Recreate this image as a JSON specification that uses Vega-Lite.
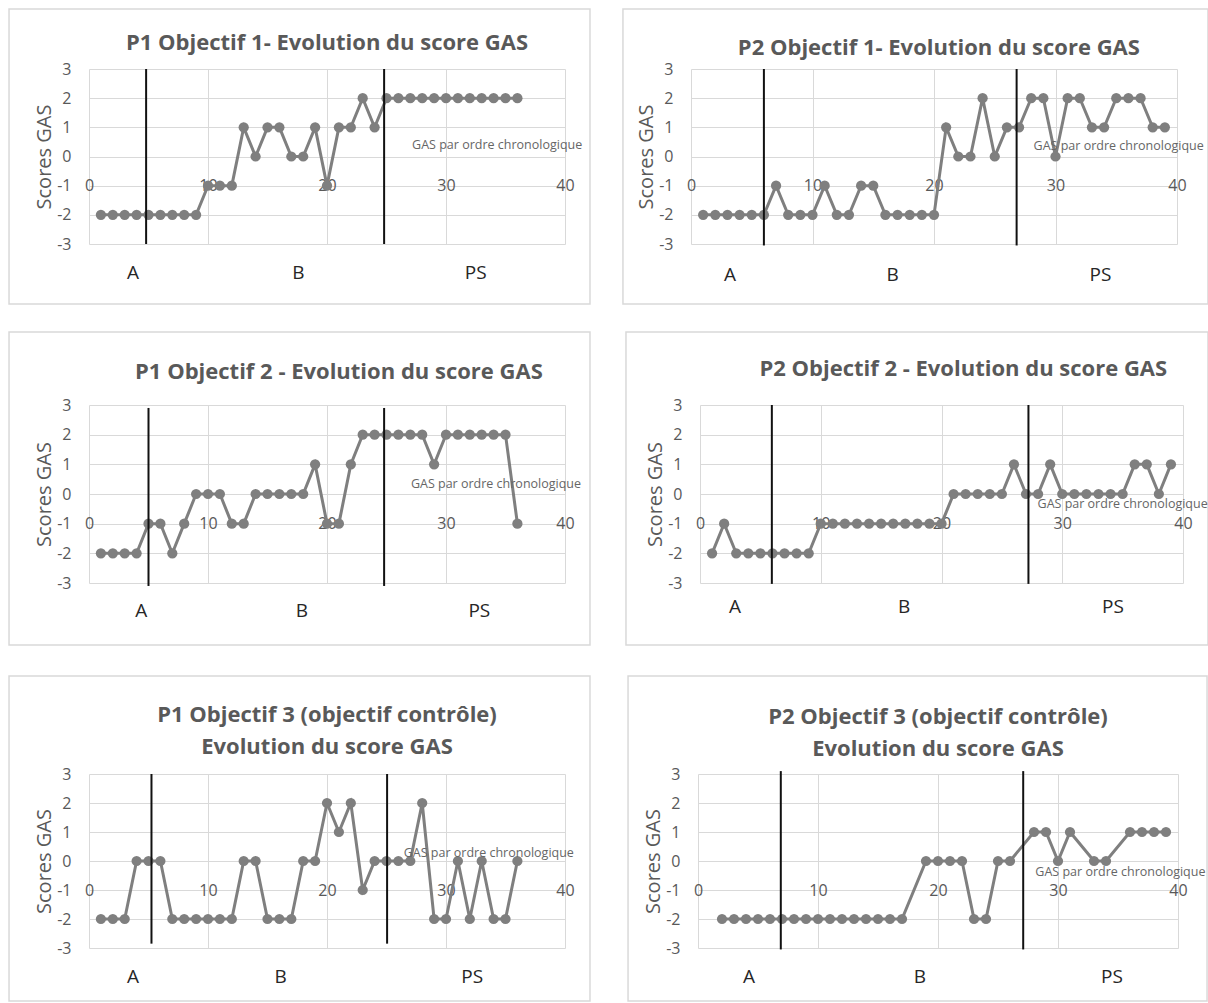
{
  "$schema": "https://vega.github.io/schema/vega-lite/v6.json",
  "padding": {"left": 8, "top": 8, "right": 0, "bottom": 0},
  "background": "white",
  "config": {
    "view": {"stroke": null},
    "font": "Open Sans",
    "axis": {"grid": true, "gridColor": "#d9d9d9", "gridWidth": 1, "domain": false, "ticks": false, "labelOverlap": false, "labelFont": "Open Sans", "labelFontSize": 16, "labelColor": "#595959", "labelFlush": false, "labelExpr": "'' + datum.value", "titleFont": "Open Sans", "titleFontSize": 20, "titleFontWeight": "normal", "titleColor": "#595959"},
    "axisX": {"labelPadding": 0, "labelBaseline": "middle", "tickCount": 10},
    "axisY": {"labelPadding": 18, "titlePadding": 2, "tickCount": 10}
  },
  "datasets": {
    "p1o1": [{"x":1,"score":-2},{"x":2,"score":-2},{"x":3,"score":-2},{"x":4,"score":-2},{"x":5,"score":-2},{"x":6,"score":-2},{"x":7,"score":-2},{"x":8,"score":-2},{"x":9,"score":-2},{"x":10,"score":-1},{"x":11,"score":-1},{"x":12,"score":-1},{"x":13,"score":1},{"x":14,"score":0},{"x":15,"score":1},{"x":16,"score":1},{"x":17,"score":0},{"x":18,"score":0},{"x":19,"score":1},{"x":20,"score":-1},{"x":21,"score":1},{"x":22,"score":1},{"x":23,"score":2},{"x":24,"score":1},{"x":25,"score":2},{"x":26,"score":2},{"x":27,"score":2},{"x":28,"score":2},{"x":29,"score":2},{"x":30,"score":2},{"x":31,"score":2},{"x":32,"score":2},{"x":33,"score":2},{"x":34,"score":2},{"x":35,"score":2},{"x":36,"score":2}],
    "p2o1": [{"x":1,"score":-2},{"x":2,"score":-2},{"x":3,"score":-2},{"x":4,"score":-2},{"x":5,"score":-2},{"x":6,"score":-2},{"x":7,"score":-1},{"x":8,"score":-2},{"x":9,"score":-2},{"x":10,"score":-2},{"x":11,"score":-1},{"x":12,"score":-2},{"x":13,"score":-2},{"x":14,"score":-1},{"x":15,"score":-1},{"x":16,"score":-2},{"x":17,"score":-2},{"x":18,"score":-2},{"x":19,"score":-2},{"x":20,"score":-2},{"x":21,"score":1},{"x":22,"score":0},{"x":23,"score":0},{"x":24,"score":2},{"x":25,"score":0},{"x":26,"score":1},{"x":27,"score":1},{"x":28,"score":2},{"x":29,"score":2},{"x":30,"score":0},{"x":31,"score":2},{"x":32,"score":2},{"x":33,"score":1},{"x":34,"score":1},{"x":35,"score":2},{"x":36,"score":2},{"x":37,"score":2},{"x":38,"score":1},{"x":39,"score":1}],
    "p1o2": [{"x":1,"score":-2},{"x":2,"score":-2},{"x":3,"score":-2},{"x":4,"score":-2},{"x":5,"score":-1},{"x":6,"score":-1},{"x":7,"score":-2},{"x":8,"score":-1},{"x":9,"score":0},{"x":10,"score":0},{"x":11,"score":0},{"x":12,"score":-1},{"x":13,"score":-1},{"x":14,"score":0},{"x":15,"score":0},{"x":16,"score":0},{"x":17,"score":0},{"x":18,"score":0},{"x":19,"score":1},{"x":20,"score":-1},{"x":21,"score":-1},{"x":22,"score":1},{"x":23,"score":2},{"x":24,"score":2},{"x":25,"score":2},{"x":26,"score":2},{"x":27,"score":2},{"x":28,"score":2},{"x":29,"score":1},{"x":30,"score":2},{"x":31,"score":2},{"x":32,"score":2},{"x":33,"score":2},{"x":34,"score":2},{"x":35,"score":2},{"x":36,"score":-1}],
    "p2o2": [{"x":1,"score":-2},{"x":2,"score":-1},{"x":3,"score":-2},{"x":4,"score":-2},{"x":5,"score":-2},{"x":6,"score":-2},{"x":7,"score":-2},{"x":8,"score":-2},{"x":9,"score":-2},{"x":10,"score":-1},{"x":11,"score":-1},{"x":12,"score":-1},{"x":13,"score":-1},{"x":14,"score":-1},{"x":15,"score":-1},{"x":16,"score":-1},{"x":17,"score":-1},{"x":18,"score":-1},{"x":19,"score":-1},{"x":20,"score":-1},{"x":21,"score":0},{"x":22,"score":0},{"x":23,"score":0},{"x":24,"score":0},{"x":25,"score":0},{"x":26,"score":1},{"x":27,"score":0},{"x":28,"score":0},{"x":29,"score":1},{"x":30,"score":0},{"x":31,"score":0},{"x":32,"score":0},{"x":33,"score":0},{"x":34,"score":0},{"x":35,"score":0},{"x":36,"score":1},{"x":37,"score":1},{"x":38,"score":0},{"x":39,"score":1}],
    "p1o3": [{"x":1,"score":-2},{"x":2,"score":-2},{"x":3,"score":-2},{"x":4,"score":0},{"x":5,"score":0},{"x":6,"score":0},{"x":7,"score":-2},{"x":8,"score":-2},{"x":9,"score":-2},{"x":10,"score":-2},{"x":11,"score":-2},{"x":12,"score":-2},{"x":13,"score":0},{"x":14,"score":0},{"x":15,"score":-2},{"x":16,"score":-2},{"x":17,"score":-2},{"x":18,"score":0},{"x":19,"score":0},{"x":20,"score":2},{"x":21,"score":1},{"x":22,"score":2},{"x":23,"score":-1},{"x":24,"score":0},{"x":25,"score":0},{"x":26,"score":0},{"x":27,"score":0},{"x":28,"score":2},{"x":29,"score":-2},{"x":30,"score":-2},{"x":31,"score":0},{"x":32,"score":-2},{"x":33,"score":0},{"x":34,"score":-2},{"x":35,"score":-2},{"x":36,"score":0}],
    "p2o3": [{"x":2,"score":-2},{"x":3,"score":-2},{"x":4,"score":-2},{"x":5,"score":-2},{"x":6,"score":-2},{"x":7,"score":-2},{"x":8,"score":-2},{"x":9,"score":-2},{"x":10,"score":-2},{"x":11,"score":-2},{"x":12,"score":-2},{"x":13,"score":-2},{"x":14,"score":-2},{"x":15,"score":-2},{"x":16,"score":-2},{"x":17,"score":-2},{"x":19,"score":0},{"x":20,"score":0},{"x":21,"score":0},{"x":22,"score":0},{"x":23,"score":-2},{"x":24,"score":-2},{"x":25,"score":0},{"x":26,"score":0},{"x":28,"score":1},{"x":29,"score":1},{"x":30,"score":0},{"x":31,"score":1},{"x":33,"score":0},{"x":34,"score":0},{"x":36,"score":1},{"x":37,"score":1},{"x":38,"score":1},{"x":39,"score":1}],
    "p1o1_phase": [{"boundary":4.8},{"boundary":24.8}],
    "p2o1_phase": [{"boundary":6.0},{"boundary":26.8}],
    "p1o2_phase": [{"boundary":5.0},{"boundary":24.8}],
    "p2o2_phase": [{"boundary":5.95},{"boundary":27.2}],
    "p1o3_phase": [{"boundary":5.25},{"boundary":25.05}],
    "p2o3_phase": [{"boundary":6.9},{"boundary":27.1}],
    "p1o1_lab": [{"phase":"A","x":3.7},{"phase":"B","x":17.6},{"phase":"PS","x":32.5}],
    "p2o1_lab": [{"phase":"A","x":3.2},{"phase":"B","x":16.6},{"phase":"PS","x":33.7}],
    "p1o2_lab": [{"phase":"A","x":4.4},{"phase":"B","x":17.9},{"phase":"PS","x":32.8}],
    "p2o2_lab": [{"phase":"A","x":2.9},{"phase":"B","x":16.9},{"phase":"PS","x":34.2}],
    "p1o3_lab": [{"phase":"A","x":3.7},{"phase":"B","x":16.1},{"phase":"PS","x":32.2}],
    "p2o3_lab": [{"phase":"A","x":4.25},{"phase":"B","x":18.5},{"phase":"PS","x":34.5}]
  },
  "vconcat": [
    {"hconcat": [
      {"width": 476, "height": 175, "layer": [
        {"data": {"name": "p1o1"}, "mark": {"type": "line", "color": "#7f7f7f", "strokeWidth": 3, "point": {"filled": true, "size": 105, "color": "#7f7f7f", "opacity": 1}}, "encoding": {"x": {"field": "x", "type": "quantitative", "scale": {"domain": [0, 40], "nice": false, "zero": false}, "axis": {"values": [0, 10, 20, 30, 40], "title": null, "offset": -58.3, "labelOverlap": false}}, "y": {"field": "score", "type": "quantitative", "scale": {"domain": [-3, 3], "nice": false, "zero": false}, "axis": {"values": [-3, -2, -1, 0, 1, 2, 3], "title": "Scores  GAS", "labelOverlap": false}}}},
        {"data": {"values": [{}]}, "mark": {"type": "rect", "fillOpacity": 0, "stroke": "#d9d9d9", "strokeWidth": 1.5}, "encoding": {"x": {"datum": -6.72, "type": "quantitative", "scale": {"domain": [0, 40]}}, "x2": {"datum": 42.1}, "y": {"datum": 5.057, "type": "quantitative", "scale": {"domain": [-3, 3]}}, "y2": {"datum": -5.057}}},
        {"data": {"name": "p1o1_phase"}, "mark": {"type": "rule", "color": "#111111", "strokeWidth": 2}, "encoding": {"x": {"field": "boundary", "type": "quantitative", "scale": {"domain": [0, 40]}}, "y": {"datum": 3, "type": "quantitative", "scale": {"domain": [-3, 3]}}, "y2": {"datum": -3}}},
        {"data": {"name": "p1o1_lab"}, "mark": {"type": "text", "font": "Open Sans", "fontSize": 19, "color": "#262626", "baseline": "middle"}, "encoding": {"x": {"field": "x", "type": "quantitative", "scale": {"domain": [0, 40]}}, "y": {"datum": -4, "type": "quantitative", "scale": {"domain": [-3, 3]}}, "text": {"field": "phase"}}},
        {"data": {"values": [{"label": "GAS par ordre chronologique"}]}, "mark": {"type": "text", "font": "Open Sans", "fontSize": 12.5, "color": "#666666", "baseline": "middle"}, "encoding": {"x": {"datum": 34.3, "type": "quantitative", "scale": {"domain": [0, 40]}}, "y": {"datum": 0.4, "type": "quantitative", "scale": {"domain": [-3, 3]}}, "text": {"field": "label"}}},
        {"data": {"values": [{"title": "P1 Objectif 1- Evolution du score GAS"}]}, "mark": {"type": "text", "font": "Open Sans", "fontSize": 22, "fontWeight": "bold", "color": "#595959", "baseline": "middle"}, "encoding": {"x": {"datum": 20, "type": "quantitative", "scale": {"domain": [0, 40]}}, "y": {"datum": 3.89, "type": "quantitative", "scale": {"domain": [-3, 3]}}, "text": {"field": "title"}}}
      ]},
      {"width": 486, "height": 175, "layer": [
        {"data": {"name": "p2o1"}, "mark": {"type": "line", "color": "#7f7f7f", "strokeWidth": 3, "point": {"filled": true, "size": 105, "color": "#7f7f7f", "opacity": 1}}, "encoding": {"x": {"field": "x", "type": "quantitative", "scale": {"domain": [0, 40], "nice": false, "zero": false}, "axis": {"values": [0, 10, 20, 30, 40], "title": null, "offset": -58.3, "labelOverlap": false}}, "y": {"field": "score", "type": "quantitative", "scale": {"domain": [-3, 3], "nice": false, "zero": false}, "axis": {"values": [-3, -2, -1, 0, 1, 2, 3], "title": "Scores  GAS", "labelOverlap": false}}}},
        {"data": {"values": [{}]}, "mark": {"type": "rect", "fillOpacity": 0, "stroke": "#d9d9d9", "strokeWidth": 1.5}, "encoding": {"x": {"datum": -5.6, "type": "quantitative", "scale": {"domain": [0, 40]}}, "x2": {"datum": 42.55}, "y": {"datum": 5.057, "type": "quantitative", "scale": {"domain": [-3, 3]}}, "y2": {"datum": -5.057}}},
        {"data": {"name": "p2o1_phase"}, "mark": {"type": "rule", "color": "#111111", "strokeWidth": 2}, "encoding": {"x": {"field": "boundary", "type": "quantitative", "scale": {"domain": [0, 40]}}, "y": {"datum": 3, "type": "quantitative", "scale": {"domain": [-3, 3]}}, "y2": {"datum": -3.05}}},
        {"data": {"name": "p2o1_lab"}, "mark": {"type": "text", "font": "Open Sans", "fontSize": 19, "color": "#262626", "baseline": "middle"}, "encoding": {"x": {"field": "x", "type": "quantitative", "scale": {"domain": [0, 40]}}, "y": {"datum": -4.05, "type": "quantitative", "scale": {"domain": [-3, 3]}}, "text": {"field": "phase"}}},
        {"data": {"values": [{"label": "GAS par ordre chronologique"}]}, "mark": {"type": "text", "font": "Open Sans", "fontSize": 12.5, "color": "#666666", "baseline": "middle"}, "encoding": {"x": {"datum": 35.2, "type": "quantitative", "scale": {"domain": [0, 40]}}, "y": {"datum": 0.35, "type": "quantitative", "scale": {"domain": [-3, 3]}}, "text": {"field": "label"}}},
        {"data": {"values": [{"title": "P2 Objectif 1- Evolution du score GAS"}]}, "mark": {"type": "text", "font": "Open Sans", "fontSize": 22, "fontWeight": "bold", "color": "#595959", "baseline": "middle"}, "encoding": {"x": {"datum": 20.4, "type": "quantitative", "scale": {"domain": [0, 40]}}, "y": {"datum": 3.72, "type": "quantitative", "scale": {"domain": [-3, 3]}}, "text": {"field": "title"}}}
      ]}
    ], "spacing": 31},
    {"vconcat": [
    {"hconcat": [
      {"width": 476, "height": 178, "layer": [
        {"data": {"name": "p1o2"}, "mark": {"type": "line", "color": "#7f7f7f", "strokeWidth": 3, "point": {"filled": true, "size": 105, "color": "#7f7f7f", "opacity": 1}}, "encoding": {"x": {"field": "x", "type": "quantitative", "scale": {"domain": [0, 40], "nice": false, "zero": false}, "axis": {"values": [0, 10, 20, 30, 40], "title": null, "offset": -59.3, "labelOverlap": false}}, "y": {"field": "score", "type": "quantitative", "scale": {"domain": [-3, 3], "nice": false, "zero": false}, "axis": {"values": [-3, -2, -1, 0, 1, 2, 3], "title": "Scores GAS", "labelOverlap": false}}}},
        {"data": {"values": [{}]}, "mark": {"type": "rect", "fillOpacity": 0, "stroke": "#d9d9d9", "strokeWidth": 1.5}, "encoding": {"x": {"datum": -6.72, "type": "quantitative", "scale": {"domain": [0, 40]}}, "x2": {"datum": 42.1}, "y": {"datum": 5.46, "type": "quantitative", "scale": {"domain": [-3, 3]}}, "y2": {"datum": -5.09}}},
        {"data": {"name": "p1o2_phase"}, "mark": {"type": "rule", "color": "#111111", "strokeWidth": 2}, "encoding": {"x": {"field": "boundary", "type": "quantitative", "scale": {"domain": [0, 40]}}, "y": {"datum": 2.9, "type": "quantitative", "scale": {"domain": [-3, 3]}}, "y2": {"datum": -3.1}}},
        {"data": {"name": "p1o2_lab"}, "mark": {"type": "text", "font": "Open Sans", "fontSize": 19, "color": "#262626", "baseline": "middle"}, "encoding": {"x": {"field": "x", "type": "quantitative", "scale": {"domain": [0, 40]}}, "y": {"datum": -3.95, "type": "quantitative", "scale": {"domain": [-3, 3]}}, "text": {"field": "phase"}}},
        {"data": {"values": [{"label": "GAS par ordre chronologique"}]}, "mark": {"type": "text", "font": "Open Sans", "fontSize": 12.5, "color": "#666666", "baseline": "middle"}, "encoding": {"x": {"datum": 34.2, "type": "quantitative", "scale": {"domain": [0, 40]}}, "y": {"datum": 0.35, "type": "quantitative", "scale": {"domain": [-3, 3]}}, "text": {"field": "label"}}},
        {"data": {"values": [{"title": "P1 Objectif 2 - Evolution du score GAS"}]}, "mark": {"type": "text", "font": "Open Sans", "fontSize": 22, "fontWeight": "bold", "color": "#595959", "baseline": "middle"}, "encoding": {"x": {"datum": 21.0, "type": "quantitative", "scale": {"domain": [0, 40]}}, "y": {"datum": 4.11, "type": "quantitative", "scale": {"domain": [-3, 3]}}, "text": {"field": "title"}}}
      ]},
      {"width": 483, "height": 178, "layer": [
        {"data": {"name": "p2o2"}, "mark": {"type": "line", "color": "#7f7f7f", "strokeWidth": 3, "point": {"filled": true, "size": 105, "color": "#7f7f7f", "opacity": 1}}, "encoding": {"x": {"field": "x", "type": "quantitative", "scale": {"domain": [0, 40], "nice": false, "zero": false}, "axis": {"values": [0, 10, 20, 30, 40], "title": null, "offset": -59.3, "labelOverlap": false}}, "y": {"field": "score", "type": "quantitative", "scale": {"domain": [-3, 3], "nice": false, "zero": false}, "axis": {"values": [-3, -2, -1, 0, 1, 2, 3], "title": "Scores GAS", "labelOverlap": false}}}},
        {"data": {"values": [{}]}, "mark": {"type": "rect", "fillOpacity": 0, "stroke": "#d9d9d9", "strokeWidth": 1.5}, "encoding": {"x": {"datum": -6.13, "type": "quantitative", "scale": {"domain": [0, 40]}}, "x2": {"datum": 42.07}, "y": {"datum": 5.46, "type": "quantitative", "scale": {"domain": [-3, 3]}}, "y2": {"datum": -5.09}}},
        {"data": {"name": "p2o2_phase"}, "mark": {"type": "rule", "color": "#111111", "strokeWidth": 2}, "encoding": {"x": {"field": "boundary", "type": "quantitative", "scale": {"domain": [0, 40]}}, "y": {"datum": 3, "type": "quantitative", "scale": {"domain": [-3, 3]}}, "y2": {"datum": -3.03}}},
        {"data": {"name": "p2o2_lab"}, "mark": {"type": "text", "font": "Open Sans", "fontSize": 19, "color": "#262626", "baseline": "middle"}, "encoding": {"x": {"field": "x", "type": "quantitative", "scale": {"domain": [0, 40]}}, "y": {"datum": -3.8, "type": "quantitative", "scale": {"domain": [-3, 3]}}, "text": {"field": "phase"}}},
        {"data": {"values": [{"label": "GAS par ordre chronologique"}]}, "mark": {"type": "text", "font": "Open Sans", "fontSize": 12.5, "color": "#666666", "baseline": "middle"}, "encoding": {"x": {"datum": 35.0, "type": "quantitative", "scale": {"domain": [0, 40]}}, "y": {"datum": -0.35, "type": "quantitative", "scale": {"domain": [-3, 3]}}, "text": {"field": "label"}}},
        {"data": {"values": [{"title": "P2 Objectif 2 - Evolution du score GAS"}]}, "mark": {"type": "text", "font": "Open Sans", "fontSize": 22, "fontWeight": "bold", "color": "#595959", "baseline": "middle"}, "encoding": {"x": {"datum": 21.8, "type": "quantitative", "scale": {"domain": [0, 40]}}, "y": {"datum": 4.21, "type": "quantitative", "scale": {"domain": [-3, 3]}}, "text": {"field": "title"}}}
      ]}
    ], "spacing": 34},
    {"hconcat": [
      {"width": 476, "height": 174, "layer": [
        {"data": {"name": "p1o3"}, "mark": {"type": "line", "color": "#7f7f7f", "strokeWidth": 3, "point": {"filled": true, "size": 105, "color": "#7f7f7f", "opacity": 1}}, "encoding": {"x": {"field": "x", "type": "quantitative", "scale": {"domain": [0, 40], "nice": false, "zero": false}, "axis": {"values": [0, 10, 20, 30, 40], "title": null, "offset": -58, "labelOverlap": false}}, "y": {"field": "score", "type": "quantitative", "scale": {"domain": [-3, 3], "nice": false, "zero": false}, "axis": {"values": [-3, -2, -1, 0, 1, 2, 3], "title": "Scores GAS", "labelOverlap": false}}}},
        {"data": {"values": [{}]}, "mark": {"type": "rect", "fillOpacity": 0, "stroke": "#d9d9d9", "strokeWidth": 1.5}, "encoding": {"x": {"datum": -6.72, "type": "quantitative", "scale": {"domain": [0, 40]}}, "x2": {"datum": 42.1}, "y": {"datum": 6.38, "type": "quantitative", "scale": {"domain": [-3, 3]}}, "y2": {"datum": -4.83}}},
        {"data": {"name": "p1o3_phase"}, "mark": {"type": "rule", "color": "#111111", "strokeWidth": 2}, "encoding": {"x": {"field": "boundary", "type": "quantitative", "scale": {"domain": [0, 40]}}, "y": {"datum": 3, "type": "quantitative", "scale": {"domain": [-3, 3]}}, "y2": {"datum": -2.85}}},
        {"data": {"name": "p1o3_lab"}, "mark": {"type": "text", "font": "Open Sans", "fontSize": 19, "color": "#262626", "baseline": "middle"}, "encoding": {"x": {"field": "x", "type": "quantitative", "scale": {"domain": [0, 40]}}, "y": {"datum": -4.0, "type": "quantitative", "scale": {"domain": [-3, 3]}}, "text": {"field": "phase"}}},
        {"data": {"values": [{"label": "GAS par ordre chronologique"}]}, "mark": {"type": "text", "font": "Open Sans", "fontSize": 12.5, "color": "#666666", "baseline": "middle"}, "encoding": {"x": {"datum": 33.6, "type": "quantitative", "scale": {"domain": [0, 40]}}, "y": {"datum": 0.28, "type": "quantitative", "scale": {"domain": [-3, 3]}}, "text": {"field": "label"}}},
        {"data": {"values": [{"title": "P1 Objectif 3 (objectif contrôle)\nEvolution du score GAS"}]}, "mark": {"type": "text", "font": "Open Sans", "fontSize": 22, "fontWeight": "bold", "color": "#595959", "baseline": "middle", "lineBreak": "\n", "lineHeight": 32}, "encoding": {"x": {"datum": 20.0, "type": "quantitative", "scale": {"domain": [0, 40]}}, "y": {"datum": 5.03, "type": "quantitative", "scale": {"domain": [-3, 3]}}, "text": {"field": "title"}}}
      ]},
      {"width": 480, "height": 174, "layer": [
        {"data": {"name": "p2o3"}, "mark": {"type": "line", "color": "#7f7f7f", "strokeWidth": 3, "point": {"filled": true, "size": 105, "color": "#7f7f7f", "opacity": 1}}, "encoding": {"x": {"field": "x", "type": "quantitative", "scale": {"domain": [0, 40], "nice": false, "zero": false}, "axis": {"values": [0, 10, 20, 30, 40], "title": null, "offset": -58, "labelOverlap": false}}, "y": {"field": "score", "type": "quantitative", "scale": {"domain": [-3, 3], "nice": false, "zero": false}, "axis": {"values": [-3, -2, -1, 0, 1, 2, 3], "title": "Scores GAS", "labelOverlap": false}}}},
        {"data": {"values": [{}]}, "mark": {"type": "rect", "fillOpacity": 0, "stroke": "#d9d9d9", "strokeWidth": 1.5}, "encoding": {"x": {"datum": -5.83, "type": "quantitative", "scale": {"domain": [0, 40]}}, "x2": {"datum": 42.42}, "y": {"datum": 6.38, "type": "quantitative", "scale": {"domain": [-3, 3]}}, "y2": {"datum": -4.83}}},
        {"data": {"name": "p2o3_phase"}, "mark": {"type": "rule", "color": "#111111", "strokeWidth": 2}, "encoding": {"x": {"field": "boundary", "type": "quantitative", "scale": {"domain": [0, 40]}}, "y": {"datum": 3.1, "type": "quantitative", "scale": {"domain": [-3, 3]}}, "y2": {"datum": -3.05}}},
        {"data": {"name": "p2o3_lab"}, "mark": {"type": "text", "font": "Open Sans", "fontSize": 19, "color": "#262626", "baseline": "middle"}, "encoding": {"x": {"field": "x", "type": "quantitative", "scale": {"domain": [0, 40]}}, "y": {"datum": -4.0, "type": "quantitative", "scale": {"domain": [-3, 3]}}, "text": {"field": "phase"}}},
        {"data": {"values": [{"label": "GAS par ordre chronologique"}]}, "mark": {"type": "text", "font": "Open Sans", "fontSize": 12.5, "color": "#666666", "baseline": "middle"}, "encoding": {"x": {"datum": 35.2, "type": "quantitative", "scale": {"domain": [0, 40]}}, "y": {"datum": -0.38, "type": "quantitative", "scale": {"domain": [-3, 3]}}, "text": {"field": "label"}}},
        {"data": {"values": [{"title": "P2 Objectif 3 (objectif contrôle)\nEvolution du score GAS"}]}, "mark": {"type": "text", "font": "Open Sans", "fontSize": 22, "fontWeight": "bold", "color": "#595959", "baseline": "middle", "lineBreak": "\n", "lineHeight": 32}, "encoding": {"x": {"datum": 20.0, "type": "quantitative", "scale": {"domain": [0, 40]}}, "y": {"datum": 4.95, "type": "quantitative", "scale": {"domain": [-3, 3]}}, "text": {"field": "title"}}}
      ]}
    ], "spacing": 36}
    ], "spacing": 29}
  ],
  "spacing": 26
}
